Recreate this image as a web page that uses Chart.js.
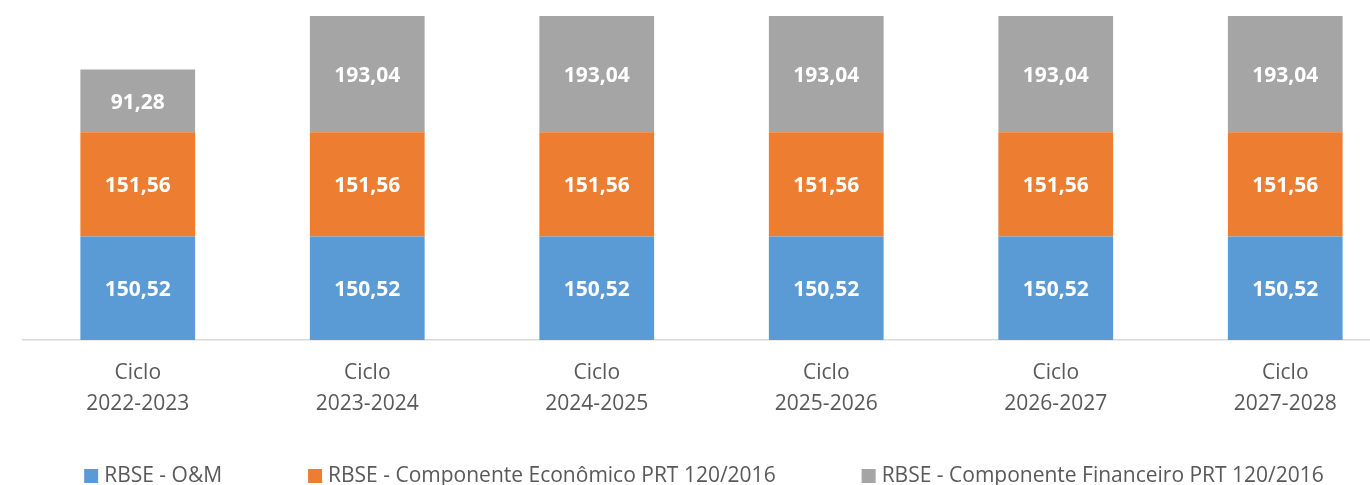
<!DOCTYPE html>
<html>
<head>
<meta charset="utf-8">
<script src="https://cdn.jsdelivr.net/npm/chart.js@4.4.0/dist/chart.umd.min.js"></script>
<style>
  html, body { margin: 0; padding: 0; background: #fff; overflow: hidden; }
  #wrap { width: 1400px; height: 485px; }
</style>
</head>
<body>
<div id="wrap"><canvas id="mycanvas" width="1400" height="485"></canvas></div>
<script>
// categorias (duas linhas cada)
const ciclos = [
  ['Ciclo', '2022-2023'],
  ['Ciclo', '2023-2024'],
  ['Ciclo', '2024-2025'],
  ['Ciclo', '2025-2026'],
  ['Ciclo', '2026-2027'],
  ['Ciclo', '2027-2028']
];
const rbseOM = [150.52, 150.52, 150.52, 150.52, 150.52, 150.52];
const rbseEconomico = [151.56, 151.56, 151.56, 151.56, 151.56, 151.56];
const rbseFinanceiro = [91.28, 193.04, 193.04, 193.04, 193.04, 193.04];
const seriesNames = [
  'RBSE - O&M',
  'RBSE - Componente Econômico PRT 120/2016',
  'RBSE - Componente Financeiro PRT 120/2016'
];
const yMax = 471;

Chart.defaults.font.family = '"Open Sans", sans-serif';

function fmt(v) {
  return v.toFixed(2).replace('.', ',');
}

// rótulos brancos no meio de cada segmento (parte visível)
const segmentLabels = {
  id: 'segmentLabels',
  afterDatasetsDraw(chart) {
    let ctx = chart.ctx;
    let area = chart.chartArea;
    ctx.save();
    ctx.font = 'bold 21px "Open Sans"';
    ctx.fillStyle = '#ffffff';
    ctx.textAlign = 'center';
    ctx.textBaseline = 'middle';
    chart.data.datasets.forEach((ds, i) => {
      chart.getDatasetMeta(i).data.forEach((bar, j) => {
        let top = Math.max(bar.y, area.top);
        let bottom = Math.min(bar.base, area.bottom);
        ctx.fillText(fmt(ds.data[j]), bar.x, (top + bottom) / 2 + 2);
      });
    });
    ctx.restore();
  }
};

// legenda em baixo, com espaçamento largo entre itens
const bottomLegend = {
  id: 'bottomLegend',
  afterDraw(chart) {
    let ctx = chart.ctx;
    ctx.save();
    ctx.font = '21px "Open Sans"';
    let box = 14, gapText = 6, gapItem = 86;
    let items = chart.data.datasets.map(ds => ({
      text: ds.label,
      color: ds.backgroundColor,
      w: ctx.measureText(ds.label).width
    }));
    let total = items.reduce((s, it) => s + box + gapText + it.w, 0) + gapItem * (items.length - 1);
    let x = chart.width / 2 + 4 - total / 2;
    let y = 476;
    ctx.textBaseline = 'middle';
    ctx.textAlign = 'left';
    items.forEach(it => {
      ctx.fillStyle = it.color;
      ctx.fillRect(x, y - box / 2, box, box);
      ctx.fillStyle = '#595959';
      ctx.fillText(it.text, x + box + gapText, y);
      x += box + gapText + it.w + gapItem;
    });
    ctx.restore();
  }
};

let ctx = document.getElementById('mycanvas');

var barChart = new Chart(ctx, {
  type: 'bar',
  data: {
    labels: ciclos,
    datasets: [
      { label: seriesNames[0], data: rbseOM, backgroundColor: '#5B9BD5' },
      { label: seriesNames[1], data: rbseEconomico, backgroundColor: '#ED7D31' },
      { label: seriesNames[2], data: rbseFinanceiro, backgroundColor: '#A5A5A5' }
    ]
  },
  options: {
    responsive: false,
    animation: false,
    devicePixelRatio: 1,
    categoryPercentage: 0.5,
    barPercentage: 1,
    layout: { padding: { top: 16, left: 23, right: 0, bottom: 48 } },
    plugins: {
      legend: { display: false },
      tooltip: { enabled: false }
    },
    scales: {
      x: {
        stacked: true,
        grid: { display: false, drawTicks: false, tickLength: 0 },
        border: { display: true, color: '#d9d9d9', width: 1.5 },
        ticks: {
          color: '#595959',
          padding: 18,
          maxRotation: 0,
          font: { size: 21, lineHeight: 1.45 }
        }
      },
      y: {
        stacked: true,
        display: false,
        min: 0,
        max: yMax
      }
    }
  },
  plugins: [segmentLabels, bottomLegend]
});
</script>
</body>
</html>
